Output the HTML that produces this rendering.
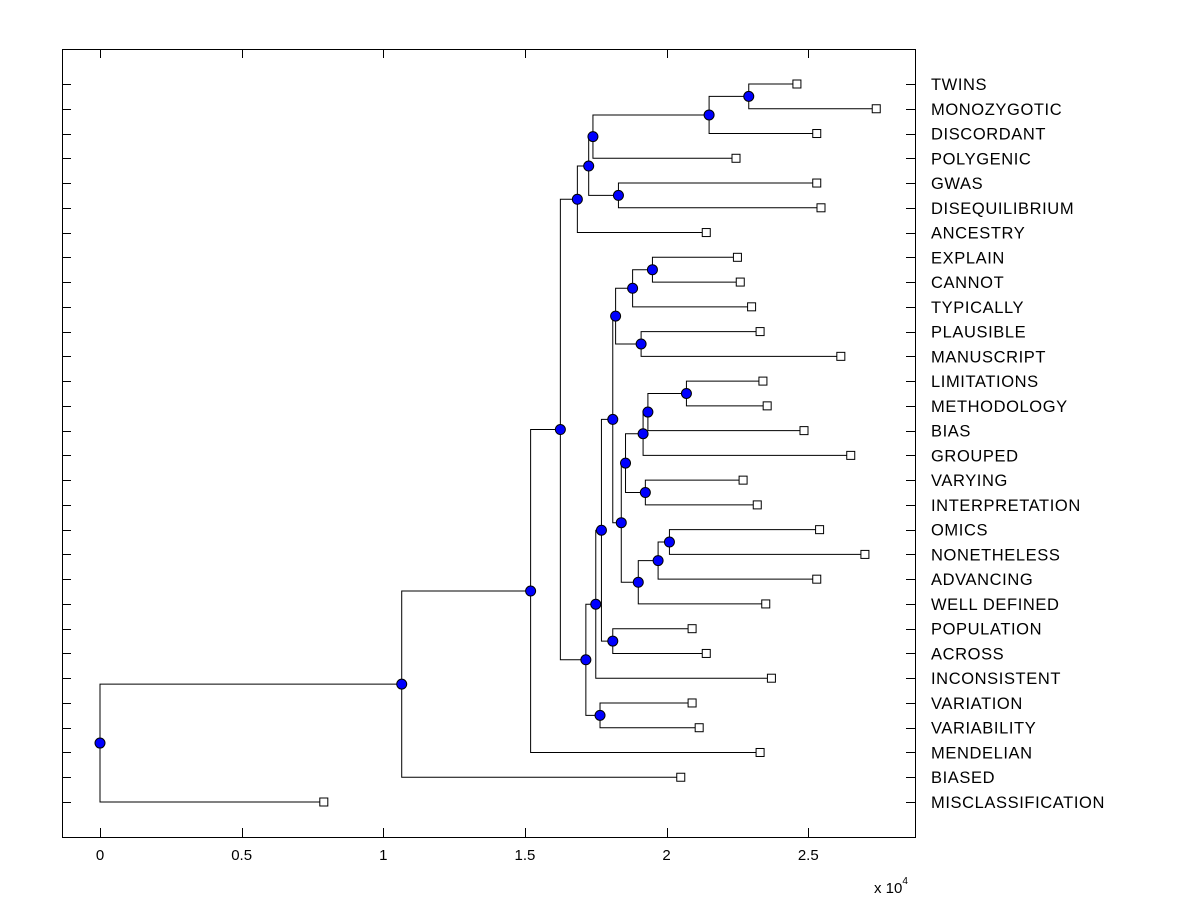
<!DOCTYPE html>
<html><head><meta charset="utf-8"><style>
body{margin:0;background:#fff}
svg text{font-family:"Liberation Sans",Arial,sans-serif;fill:#000}
</style></head><body>
<svg id="c" width="1200" height="900" xmlns="http://www.w3.org/2000/svg">
<rect x="0" y="0" width="1200" height="900" fill="#fff"/>
</svg>
<script>
const leafNames=["TWINS","MONOZYGOTIC","DISCORDANT","POLYGENIC","GWAS","DISEQUILIBRIUM","ANCESTRY","EXPLAIN","CANNOT","TYPICALLY","PLAUSIBLE","MANUSCRIPT","LIMITATIONS","METHODOLOGY","BIAS","GROUPED","VARYING","INTERPRETATION","OMICS","NONETHELESS","ADVANCING","WELL DEFINED","POPULATION","ACROSS","INCONSISTENT","VARIATION","VARIABILITY","MENDELIAN","BIASED","MISCLASSIFICATION"];
const leafValues=[2.46,2.74,2.53,2.245,2.53,2.545,2.14,2.25,2.26,2.30,2.33,2.615,2.34,2.355,2.485,2.65,2.27,2.32,2.54,2.70,2.53,2.35,2.09,2.14,2.37,2.09,2.115,2.33,2.05,0.79];
// internal nodes: ids 30.. in order; children ids and merge heights
const mergeLeft=[0,30,4,31,33,34, 7,36,10,37, 12,40,41,16,42, 18,45,46,44,39, 22,49,51,25,52, 35,55,56,57];
const mergeRight=[1,2,5,3,32,6, 8,9,11,38, 13,14,15,17,43, 19,20,21,47,48, 23,50,24,26,53, 54,27,28,29];
const mergeHeights=[2.29,2.15,1.83,1.74,1.725,1.685, 1.95,1.88,1.91,1.82, 2.07,1.934,1.917,1.925,1.855, 2.01,1.97,1.90,1.84,1.81, 1.81,1.77,1.75,1.765,1.715, 1.625,1.52,1.065,0];
const xTicks=[0,0.5,1,1.5,2,2.5];
const xTickLabels=["0","0.5","1","1.5","2","2.5"];

const svg=document.getElementById('c');
const NS='http://www.w3.org/2000/svg';
const X0=62,X1=915,Y0=49,Y1=837;
const sx=v=>100+283.3*v;
const rowY=i=>84+i*(802-84)/29;
function mk(t,a){const e=document.createElementNS(NS,t);for(const k in a)e.setAttribute(k,a[k]);svg.appendChild(e);return e;}
const nodes=[];
leafNames.forEach((n,i)=>nodes.push({v:leafValues[i],y:rowY(i),leaf:true}));
mergeHeights.forEach((h,k)=>{const a=nodes[mergeLeft[k]],b=nodes[mergeRight[k]];nodes.push({v:h,y:(a.y+b.y)/2,a:mergeLeft[k],b:mergeRight[k]});});
const box=mk('rect',{x:X0+.5,y:Y0+.5,width:X1-X0,height:Y1-Y0,fill:'none',stroke:'#000','stroke-width':1});


leafNames.forEach((n,i)=>{const y=Math.round(rowY(i))+.5;
 const t1=mk('line',{x1:X0,x2:X0+9,y1:y,y2:y,stroke:'#000'});
 
 
 const t2=mk('line',{x1:X1-9,x2:X1,y1:y,y2:y,stroke:'#000'});
 
 
 const t=mk('text',{x:931,y:rowY(i)+6,'font-size':16.5,'letter-spacing':0.6});t.textContent=n;
 
 
});
xTicks.forEach((v,i)=>{const x=Math.round(sx(v))+.5;
 const tk=mk('line',{x1:x,x2:x,y1:Y1-9,y2:Y1,stroke:'#000'});
 
 
 const tt=mk('line',{x1:x,x2:x,y1:Y0,y2:Y0+9,stroke:'#000'});
 
 
 const t=mk('text',{x:sx(v),y:860,'font-size':15,'text-anchor':'middle'});t.textContent=xTickLabels[i];
 
 
});
const ex=mk('text',{x:874,y:893,'font-size':15});ex.innerHTML='x 10<tspan dy="-9" font-size="10">4</tspan>';


for(let i=30;i<nodes.length;i++){const n=nodes[i],a=nodes[n.a],b=nodes[n.b];
 const x=sx(n.v);
 const p=mk('path',{d:`M${sx(a.v)},${a.y} H${x} V${b.y} H${sx(b.v)}`,fill:'none',stroke:'#000','stroke-width':1});
 
 }
nodes.forEach(n=>{
 if(n.leaf){const r=mk('rect',{x:sx(n.v)-4,y:n.y-4,width:8,height:8,fill:'#fff',stroke:'#000'});
  
  }
 else{const c=mk('circle',{cx:sx(n.v),cy:n.y,r:5,fill:'#0000ff',stroke:'#000'});
  
  }
});
</script>
</body></html>
